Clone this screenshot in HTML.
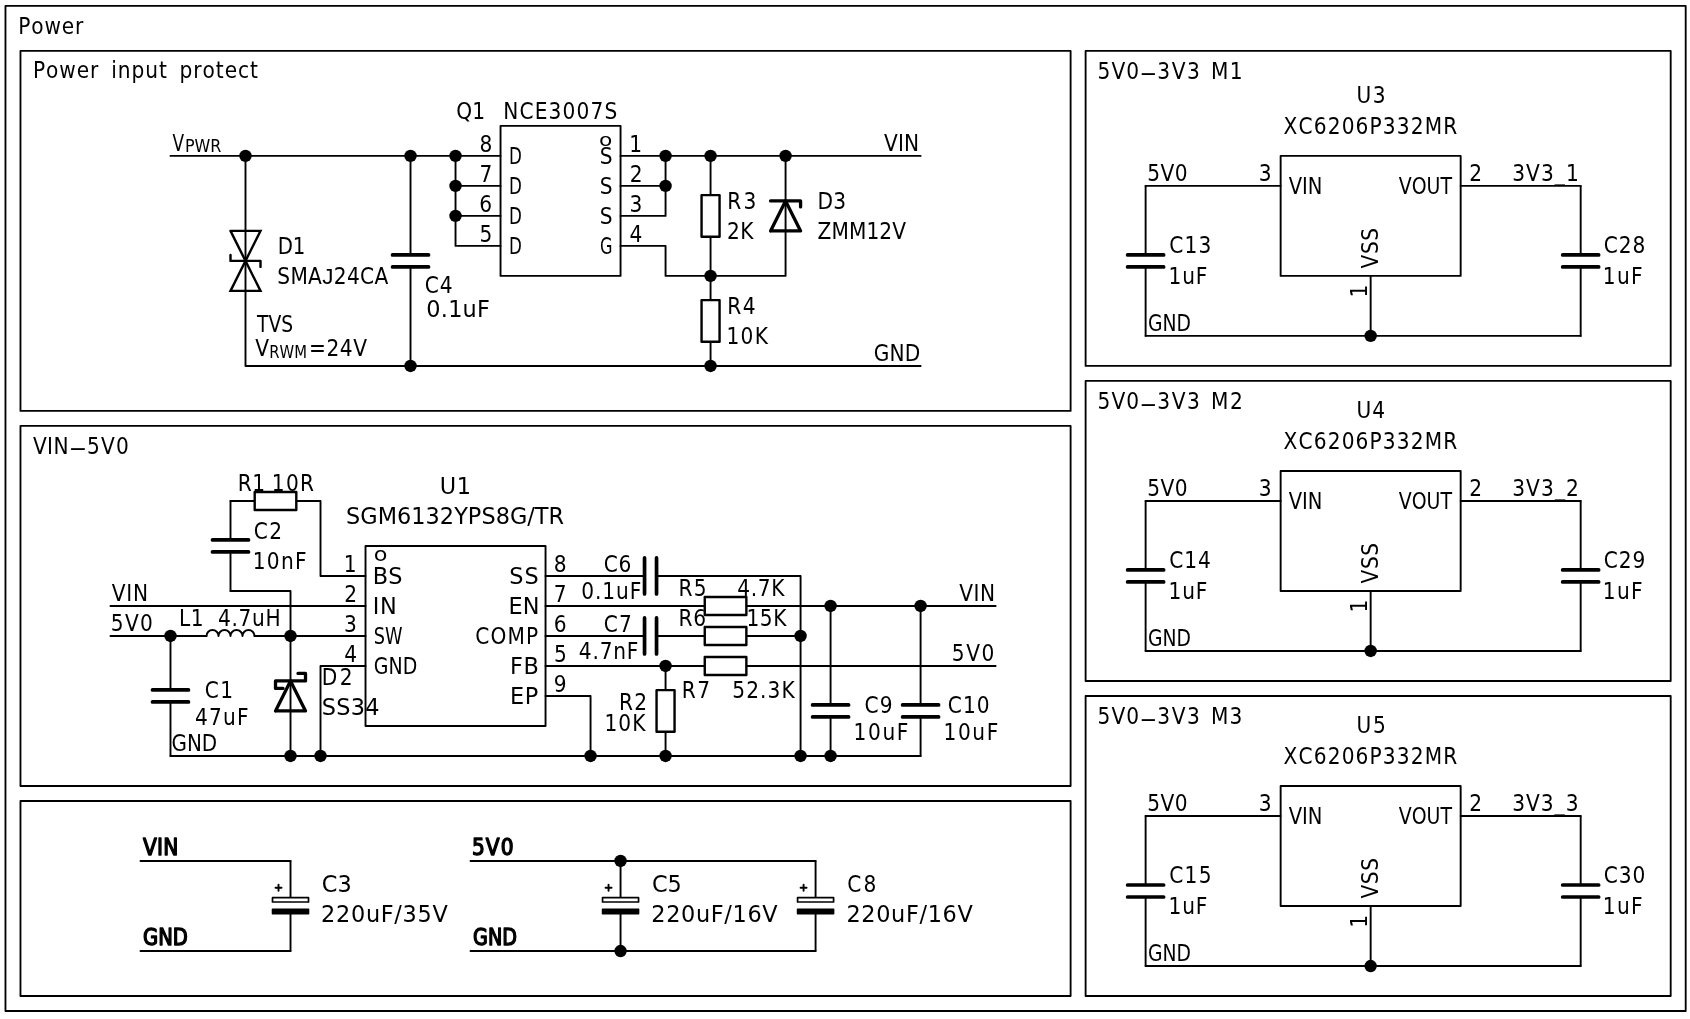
<!DOCTYPE html>
<html><head><meta charset="utf-8"><title>Power</title>
<style>
html,body{margin:0;padding:0;background:#fff;overflow:hidden}
svg{display:block;will-change:transform}
text{font-family:"DejaVu Sans Condensed","DejaVu Sans","Liberation Sans",sans-serif;font-size:22.4px;fill:#000;stroke:none;font-kerning:none;white-space:pre}
text.w{font-family:"DejaVu Sans","Liberation Sans",sans-serif}
text .l{font-family:"Liberation Sans",sans-serif}
text.b{stroke:#000;stroke-width:1.3px;stroke-linejoin:round}
</style></head><body>
<svg width="1690" height="1019" viewBox="0 0 1690 1019" fill="none" stroke="#000" stroke-linecap="round" stroke-linejoin="round">
<rect x="0" y="0" width="1690" height="1019" fill="#fff" stroke="none"/>
<rect x="5.47" y="5.88" width="1680.22" height="1005.13" stroke-width="1.85" fill="none"/>
<rect x="20.47" y="50.89" width="1050.14" height="360.05" stroke-width="1.85" fill="none"/>
<rect x="20.47" y="425.94" width="1050.14" height="360.05" stroke-width="1.85" fill="none"/>
<rect x="20.47" y="800.99" width="1050.14" height="195.03" stroke-width="1.85" fill="none"/>
<rect x="1085.61" y="50.89" width="585.08" height="315.04" stroke-width="1.85" fill="none"/>
<rect x="1085.61" y="380.93" width="585.08" height="300.04" stroke-width="1.85" fill="none"/>
<rect x="1085.61" y="695.97" width="585.08" height="300.04" stroke-width="1.85" fill="none"/>
<path d="M170.49 155.9 L500.53 155.9" stroke-width="1.9"/>
<path d="M245.5 155.9 L245.5 365.93 L920.59 365.93" stroke-width="1.9"/>
<path d="M410.52 155.9 L410.52 254.91" stroke-width="1.9"/>
<path d="M410.52 266.91 L410.52 365.93" stroke-width="1.9"/>
<path d="M392.52 254.91 L428.52 254.91" stroke-width="3.7"/>
<path d="M392.52 266.91 L428.52 266.91" stroke-width="3.7"/>
<path d="M455.53 155.9 L455.53 245.91 L500.53 245.91" stroke-width="1.9"/>
<path d="M455.53 185.9 L500.53 185.9" stroke-width="1.9"/>
<path d="M455.53 215.91 L500.53 215.91" stroke-width="1.9"/>
<rect x="500.53" y="125.9" width="120.02" height="150.02" stroke-width="1.9" fill="none"/>
<path d="M620.55 155.9 L920.59 155.9" stroke-width="1.9"/>
<path d="M620.55 185.9 L665.56 185.9" stroke-width="1.9"/>
<path d="M665.56 155.9 L665.56 215.91 L620.55 215.91" stroke-width="1.9"/>
<path d="M620.55 245.91 L665.56 245.91 L665.56 275.92 L785.57 275.92 L785.57 155.9" stroke-width="1.9"/>
<path d="M710.56 155.9 L710.56 365.93" stroke-width="1.9"/>
<rect x="701.56" y="195.11" width="18" height="41.6" stroke-width="2.4" fill="#fff"/>
<rect x="701.56" y="300.12" width="18" height="41.6" stroke-width="2.4" fill="#fff"/>
<circle cx="245.5" cy="155.9" r="6.2" fill="#000" stroke="none"/>
<circle cx="410.52" cy="155.9" r="6.2" fill="#000" stroke="none"/>
<circle cx="455.53" cy="155.9" r="6.2" fill="#000" stroke="none"/>
<circle cx="455.53" cy="185.9" r="6.2" fill="#000" stroke="none"/>
<circle cx="455.53" cy="215.91" r="6.2" fill="#000" stroke="none"/>
<circle cx="410.52" cy="365.93" r="6.2" fill="#000" stroke="none"/>
<circle cx="665.56" cy="155.9" r="6.2" fill="#000" stroke="none"/>
<circle cx="665.56" cy="185.9" r="6.2" fill="#000" stroke="none"/>
<circle cx="710.56" cy="155.9" r="6.2" fill="#000" stroke="none"/>
<circle cx="785.57" cy="155.9" r="6.2" fill="#000" stroke="none"/>
<circle cx="710.56" cy="275.92" r="6.2" fill="#000" stroke="none"/>
<circle cx="710.56" cy="365.93" r="6.2" fill="#000" stroke="none"/>
<path d="M230.5 230.91 L260.5 230.91 L230.5 290.91 L260.5 290.91 L230.5 230.91" stroke-width="2.4" stroke-linejoin="miter"/>
<path d="M230.5 254.91 L230.5 260.91 L260.5 260.91 L260.5 266.91" stroke-width="2.4"/>
<path d="M770.57 230.91 L800.57 230.91 L785.57 200.91 L770.57 230.91" stroke-width="3.3" fill="#fff"/>
<path d="M785.57 200.91 L785.57 230.91" stroke-width="1.9"/>
<path d="M770.57 200.91 L800.57 200.91 L800.57 206.91" stroke-width="3.3"/>
<path d="M230.5 500.95 L320.51 500.95 L320.51 575.96 L365.52 575.96" stroke-width="1.9"/>
<rect x="254.7" y="491.95" width="41.6" height="18" stroke-width="2.4" fill="#fff"/>
<path d="M230.5 500.95 L230.5 539.95" stroke-width="1.9"/>
<path d="M230.5 551.95 L230.5 590.96" stroke-width="1.9"/>
<path d="M212.5 539.95 L248.5 539.95" stroke-width="3.7"/>
<path d="M212.5 551.95 L248.5 551.95" stroke-width="3.7"/>
<path d="M230.5 590.96 L290.51 590.96 L290.51 755.98" stroke-width="1.9"/>
<path d="M110.48 605.96 L365.52 605.96" stroke-width="1.9"/>
<path d="M110.48 635.96 L206.49 635.96" stroke-width="1.9"/>
<path d="M254.5 635.96 L365.52 635.96" stroke-width="1.9"/>
<path d="M206.5 635.96 a6 6 0 0 1 12 0 a6 6 0 0 1 12 0 a6 6 0 0 1 12 0 a6 6 0 0 1 12 0" stroke-width="1.9"/>
<path d="M170.49 635.96 L170.49 689.97" stroke-width="1.9"/>
<path d="M170.49 701.97 L170.49 755.98" stroke-width="1.9"/>
<path d="M152.49 689.97 L188.49 689.97" stroke-width="3.7"/>
<path d="M152.49 701.97 L188.49 701.97" stroke-width="3.7"/>
<path d="M170.49 755.98 L920.59 755.98" stroke-width="1.9"/>
<path d="M365.52 665.97 L320.51 665.97 L320.51 755.98" stroke-width="1.9"/>
<rect x="365.52" y="545.95" width="180.02" height="180.02" stroke-width="1.9" fill="none"/>
<path d="M545.54 575.96 L644.55 575.96" stroke-width="1.9"/>
<path d="M656.55 575.96 L800.57 575.96 L800.57 755.98" stroke-width="1.9"/>
<path d="M644.55 557.96 L644.55 593.96" stroke-width="3.7"/>
<path d="M656.55 557.96 L656.55 593.96" stroke-width="3.7"/>
<path d="M545.54 605.96 L995.6 605.96" stroke-width="1.9"/>
<rect x="704.76" y="596.96" width="41.6" height="18" stroke-width="2.4" fill="#fff"/>
<path d="M545.54 635.96 L644.55 635.96" stroke-width="1.9"/>
<path d="M656.55 635.96 L800.57 635.96" stroke-width="1.9"/>
<path d="M644.55 617.96 L644.55 653.96" stroke-width="3.7"/>
<path d="M656.55 617.96 L656.55 653.96" stroke-width="3.7"/>
<rect x="704.76" y="626.96" width="41.6" height="18" stroke-width="2.4" fill="#fff"/>
<path d="M545.54 665.97 L995.6 665.97" stroke-width="1.9"/>
<rect x="704.76" y="656.97" width="41.6" height="18" stroke-width="2.4" fill="#fff"/>
<path d="M665.56 665.97 L665.56 755.98" stroke-width="1.9"/>
<rect x="656.56" y="690.17" width="18" height="41.6" stroke-width="2.4" fill="#fff"/>
<path d="M545.54 695.97 L590.55 695.97 L590.55 755.98" stroke-width="1.9"/>
<path d="M830.58 605.96 L830.58 704.97" stroke-width="1.9"/>
<path d="M830.58 716.97 L830.58 755.98" stroke-width="1.9"/>
<path d="M812.58 704.97 L848.58 704.97" stroke-width="3.7"/>
<path d="M812.58 716.97 L848.58 716.97" stroke-width="3.7"/>
<path d="M920.59 605.96 L920.59 704.97" stroke-width="1.9"/>
<path d="M920.59 716.97 L920.59 755.98" stroke-width="1.9"/>
<path d="M902.59 704.97 L938.59 704.97" stroke-width="3.7"/>
<path d="M902.59 716.97 L938.59 716.97" stroke-width="3.7"/>
<circle cx="170.49" cy="635.96" r="6.2" fill="#000" stroke="none"/>
<circle cx="290.51" cy="635.96" r="6.2" fill="#000" stroke="none"/>
<circle cx="290.51" cy="755.98" r="6.2" fill="#000" stroke="none"/>
<circle cx="320.51" cy="755.98" r="6.2" fill="#000" stroke="none"/>
<circle cx="590.55" cy="755.98" r="6.2" fill="#000" stroke="none"/>
<circle cx="665.56" cy="755.98" r="6.2" fill="#000" stroke="none"/>
<circle cx="800.57" cy="755.98" r="6.2" fill="#000" stroke="none"/>
<circle cx="830.58" cy="755.98" r="6.2" fill="#000" stroke="none"/>
<circle cx="665.56" cy="665.97" r="6.2" fill="#000" stroke="none"/>
<circle cx="800.57" cy="635.96" r="6.2" fill="#000" stroke="none"/>
<circle cx="830.58" cy="605.96" r="6.2" fill="#000" stroke="none"/>
<circle cx="920.59" cy="605.96" r="6.2" fill="#000" stroke="none"/>
<path d="M275.51 710.97 L305.51 710.97 L290.51 680.97 L275.51 710.97" stroke-width="3.3" fill="#fff"/>
<path d="M290.51 680.97 L290.51 710.97" stroke-width="1.9"/>
<path d="M283.01 688.47 L275.51 688.47 L275.51 680.97 L305.51 680.97 L305.51 673.47 L298.01 673.47" stroke-width="3.3"/>
<path d="M140.49 860.99 L290.51 860.99" stroke-width="1.9"/>
<path d="M140.49 951.01 L290.51 951.01" stroke-width="1.9"/>
<path d="M290.51 860.99 L290.51 897.6" stroke-width="1.9"/>
<path d="M290.51 913.8 L290.51 951.01" stroke-width="1.9"/>
<rect x="272.51" y="897.7" width="36" height="4.3" stroke-width="1.7" fill="#fff"/>
<rect x="272.51" y="909.3" width="36" height="4.5" stroke-width="1.6" fill="#000"/>
<path d="M275.51 887.7 L281.51 887.7" stroke-width="1.9"/>
<path d="M278.51 884.7 L278.51 890.7" stroke-width="1.9"/>
<path d="M470.53 860.99 L815.58 860.99" stroke-width="1.9"/>
<path d="M470.53 951.01 L815.58 951.01" stroke-width="1.9"/>
<path d="M620.55 860.99 L620.55 897.6" stroke-width="1.9"/>
<path d="M620.55 913.8 L620.55 951.01" stroke-width="1.9"/>
<rect x="602.55" y="897.7" width="36" height="4.3" stroke-width="1.7" fill="#fff"/>
<rect x="602.55" y="909.3" width="36" height="4.5" stroke-width="1.6" fill="#000"/>
<path d="M605.55 887.7 L611.55 887.7" stroke-width="1.9"/>
<path d="M608.55 884.7 L608.55 890.7" stroke-width="1.9"/>
<path d="M815.58 860.99 L815.58 897.6" stroke-width="1.9"/>
<path d="M815.58 913.8 L815.58 951.01" stroke-width="1.9"/>
<rect x="797.58" y="897.7" width="36" height="4.3" stroke-width="1.7" fill="#fff"/>
<rect x="797.58" y="909.3" width="36" height="4.5" stroke-width="1.6" fill="#000"/>
<path d="M800.58 887.7 L806.58 887.7" stroke-width="1.9"/>
<path d="M803.58 884.7 L803.58 890.7" stroke-width="1.9"/>
<circle cx="620.55" cy="860.99" r="6.2" fill="#000" stroke="none"/>
<circle cx="620.55" cy="951.01" r="6.2" fill="#000" stroke="none"/>
<rect x="1280.64" y="155.9" width="180.02" height="120.02" stroke-width="1.9" fill="none"/>
<path d="M1280.64 185.9 L1145.62 185.9" stroke-width="1.9"/>
<path d="M1145.62 185.9 L1145.62 254.91" stroke-width="1.9"/>
<path d="M1145.62 266.91 L1145.62 335.92" stroke-width="1.9"/>
<path d="M1127.62 254.91 L1163.62 254.91" stroke-width="3.7"/>
<path d="M1127.62 266.91 L1163.62 266.91" stroke-width="3.7"/>
<path d="M1145.62 335.92 L1580.68 335.92" stroke-width="1.9"/>
<path d="M1370.65 275.92 L1370.65 335.92" stroke-width="1.9"/>
<circle cx="1370.65" cy="335.92" r="6.2" fill="#000" stroke="none"/>
<path d="M1460.66 185.9 L1580.68 185.9" stroke-width="1.9"/>
<path d="M1580.68 185.9 L1580.68 254.91" stroke-width="1.9"/>
<path d="M1580.68 266.91 L1580.68 335.92" stroke-width="1.9"/>
<path d="M1562.68 254.91 L1598.68 254.91" stroke-width="3.7"/>
<path d="M1562.68 266.91 L1598.68 266.91" stroke-width="3.7"/>
<rect x="1280.64" y="470.94" width="180.02" height="120.02" stroke-width="1.9" fill="none"/>
<path d="M1280.64 500.95 L1145.62 500.95" stroke-width="1.9"/>
<path d="M1145.62 500.95 L1145.62 569.96" stroke-width="1.9"/>
<path d="M1145.62 581.96 L1145.62 650.97" stroke-width="1.9"/>
<path d="M1127.62 569.96 L1163.62 569.96" stroke-width="3.7"/>
<path d="M1127.62 581.96 L1163.62 581.96" stroke-width="3.7"/>
<path d="M1145.62 650.97 L1580.68 650.97" stroke-width="1.9"/>
<path d="M1370.65 590.96 L1370.65 650.97" stroke-width="1.9"/>
<circle cx="1370.65" cy="650.97" r="6.2" fill="#000" stroke="none"/>
<path d="M1460.66 500.95 L1580.68 500.95" stroke-width="1.9"/>
<path d="M1580.68 500.95 L1580.68 569.96" stroke-width="1.9"/>
<path d="M1580.68 581.96 L1580.68 650.97" stroke-width="1.9"/>
<path d="M1562.68 569.96 L1598.68 569.96" stroke-width="3.7"/>
<path d="M1562.68 581.96 L1598.68 581.96" stroke-width="3.7"/>
<rect x="1280.64" y="785.98" width="180.02" height="120.02" stroke-width="1.9" fill="none"/>
<path d="M1280.64 815.99 L1145.62 815.99" stroke-width="1.9"/>
<path d="M1145.62 815.99 L1145.62 885" stroke-width="1.9"/>
<path d="M1145.62 897 L1145.62 966.01" stroke-width="1.9"/>
<path d="M1127.62 885 L1163.62 885" stroke-width="3.7"/>
<path d="M1127.62 897 L1163.62 897" stroke-width="3.7"/>
<path d="M1145.62 966.01 L1580.68 966.01" stroke-width="1.9"/>
<path d="M1370.65 906 L1370.65 966.01" stroke-width="1.9"/>
<circle cx="1370.65" cy="966.01" r="6.2" fill="#000" stroke="none"/>
<path d="M1460.66 815.99 L1580.68 815.99" stroke-width="1.9"/>
<path d="M1580.68 815.99 L1580.68 885" stroke-width="1.9"/>
<path d="M1580.68 897 L1580.68 966.01" stroke-width="1.9"/>
<path d="M1562.68 885 L1598.68 885" stroke-width="3.7"/>
<path d="M1562.68 897 L1598.68 897" stroke-width="3.7"/>
<text x="18.13 31.19 44.42 61.8 75.11" y="33.9">Power</text>
<text x="33.03 46.11 59.37 76.78 90.11" y="78.4">Power</text>
<text x="111.21 117.79 131.54 145.32 159.07" y="78.4">input</text>
<text x="179.47 193.24 202.49 215.79 224.65 238.02 250.07" y="78.4">protect</text>
<text x="32.95 47.09 53.4" y="453.9">VIN</text>
<text transform="translate(71 455.2) scale(2.6 1)" x="-0.98" y="0">-</text>
<text x="86.95 101.04 116.1" y="453.9">5V0</text>
<text x="1097.55 1111.44 1126.3" y="79">5V0</text>
<text transform="translate(1141.8 80.3) scale(2.5 1)" x="-0.98" y="0">-</text>
<text x="1157.37 1171.69 1186.98" y="79">3V3</text>
<text x="1211.03 1229.73" y="79">M1</text>
<text x="1097.55 1111.44 1126.3" y="409.2">5V0</text>
<text transform="translate(1141.8 410.5) scale(2.5 1)" x="-0.98" y="0">-</text>
<text x="1157.37 1171.69 1186.98" y="409.2">3V3</text>
<text x="1211.03 1229.88" y="409.2">M2</text>
<text x="1097.55 1111.44 1126.3" y="724.2">5V0</text>
<text transform="translate(1141.8 725.5) scale(2.5 1)" x="-0.98" y="0">-</text>
<text x="1157.37 1171.69 1186.98" y="724.2">3V3</text>
<text x="1211.03 1229.48" y="724.2">M3</text>
<text transform="translate(172.5 151.1) scale(0.84 1)" x="-0.15" y="0">V</text>
<text transform="translate(186.5 152.4) scale(0.99 1)" x="-1.57 8.15 24.09" y="0" style="font-size:17.92px">PWR</text>
<text x="456.17 472.23" y="119">Q1</text>
<text x="503.13 519.38 534.63 548.54 562.53 576.53 590.52 604.52" y="119">NCE3007S</text>
<text x="479.44" y="152">8</text>
<text x="479.47" y="182">7</text>
<text x="479.37" y="212.01">6</text>
<text x="479.54" y="242.01">5</text>
<text transform="translate(510.5 163.9) scale(0.83 1)" x="-1.97" y="0">D</text>
<text transform="translate(510.5 193.9) scale(0.83 1)" x="-1.97" y="0">D</text>
<text transform="translate(510.5 223.91) scale(0.83 1)" x="-1.97" y="0">D</text>
<text transform="translate(510.5 253.91) scale(0.83 1)" x="-1.97" y="0">D</text>
<text x="599.65" y="163.9">S</text>
<text x="599.65" y="193.9">S</text>
<text x="599.65" y="223.91">S</text>
<text transform="translate(601 253.91) scale(0.8 1)" x="-1.13" y="0">G</text>
<text transform="translate(600.1 145.7) scale(1.19 1)" x="-1.01" y="0" style="font-size:18.3px" class="w">o</text>
<text x="629.21" y="152">1</text>
<text x="629.65" y="182">2</text>
<text x="629.42" y="212.01">3</text>
<text x="629.46" y="242.01">4</text>
<text x="884.05 897.89 903.9" y="151">VIN</text>
<text x="727.23 743.38" y="209">R3</text>
<text x="726.92 740.25" y="239">2K</text>
<text x="817.43 833.28" y="209">D3</text>
<text x="817.6 831.48 848.94 866.4 879.28 892.17" y="239">ZMM12V</text>
<text x="727.33 742.8" y="314">R4</text>
<text x="726.49 740.62 754.75" y="344">10K</text>
<text x="873.67 889.49 904.76" y="361.03">GND</text>
<text transform="translate(279.6 254) scale(0.98 1)" x="-1.97 13.55" y="0">D1</text>
<text x="277.28 290.4 308.12 322.24 333.77 346.92 360.06 374.47" y="284">SMA<tspan class="l">J</tspan>24CA</text>
<text x="424.77 439.8" y="293">C4</text>
<text x="426.32 440.79 448.13 462.6 477.02" y="317" class="w">0.1uF</text>
<text transform="translate(256.9 332) scale(0.93 1)" x="0.07 12.37 26.15" y="0">TVS</text>
<text x="255.36" y="356">V</text>
<text transform="translate(270.7 358) scale(0.92 1)" x="-1.57 9.62 25.57" y="0" style="font-size:17.92px">RWM</text>
<text x="308.97 326.45 339.86 353.27" y="356">=24V</text>
<text x="237.63 252.23" y="491">R1</text>
<text x="271.79 285.88 299.97" y="491">10R</text>
<text x="253.77 269.18" y="539">C2</text>
<text x="252.69 266.83 280.97 295.07" y="569">10nF</text>
<text x="111.85 126.29 132.9" y="601.1">VIN</text>
<text x="110.85 124.99 140.1" y="631.2">5V0</text>
<text x="178.93 190.63" y="626">L1</text>
<text x="217.92 231.46 238.57 252.11 265.61" y="626">4.7uH</text>
<text x="439.75 456.82" y="494" class="w">U1</text>
<text x="346.02 360.27 377.66 397.01 411.29 425.57 439.85 454.13 467.84 481.38 495.63 509.91 527.29 534.87 548.58" y="524.4" class="w">SGM6132YPS8G/TR</text>
<text x="343.81" y="572.06">1</text>
<text x="344.35" y="602.06">2</text>
<text x="344.12" y="632.06">3</text>
<text x="344.16" y="662.07">4</text>
<text x="372.7 388.23" y="583.96" class="w">BS</text>
<text x="372.7 379.94" y="613.96" class="w">IN</text>
<text transform="translate(374.9 643.96) scale(0.88 1)" x="-1.32 11.47" y="0">SW</text>
<text transform="translate(374.9 673.97) scale(0.94 1)" x="-1.13 14.49 29.56" y="0">GND</text>
<text x="509.32 524.43" y="583.96" class="w">SS</text>
<text x="508.6 522.84" y="613.96" class="w">EN</text>
<text x="475.37 490.53 507.46 525.93" y="643.96">COMP</text>
<text x="509.9 523.62" y="673.97" class="w">FB</text>
<text x="509.9 524.66" y="703.97" class="w">EP</text>
<text x="553.79" y="572.06">8</text>
<text x="553.82" y="602.06">7</text>
<text x="553.72" y="632.06">6</text>
<text x="553.89" y="662.07">5</text>
<text x="553.86" y="692.07">9</text>
<text transform="translate(375 560.7) scale(1.14 1)" x="-1.08" y="0" style="font-size:19.6px" class="w">o</text>
<text x="603.67 618.54" y="572">C6</text>
<text x="581.18 594.96 602.33 616.12 629.87" y="599">0.1uF</text>
<text x="603.67 618.99" y="632">C7</text>
<text x="578.82 592.44 599.65 613.28 626.87" y="659">4.7nF</text>
<text x="678.53 693.83" y="596">R5</text>
<text x="737.22 750.7 757.77 771.25" y="596">4.7K</text>
<text x="678.53 693.34" y="626">R6</text>
<text x="746.59 759.87 773.15" y="626">15K</text>
<text x="681.83 697.29" y="698">R7</text>
<text x="732.35 746.23 760.11 767.57 781.45" y="698">52.3K</text>
<text x="618.93 634.28" y="710">R2</text>
<text x="604.39 618.27 632.15" y="731">10K</text>
<text x="959.25 973.49 979.9" y="601.1">VIN</text>
<text x="951.75 966.14 981.5" y="661.2">5V0</text>
<text x="864.57 879.78" y="713">C9</text>
<text x="853.49 867.96 882.44 896.87" y="740">10uF</text>
<text x="947.87 962.92 976.7" y="713">C10</text>
<text x="943.49 957.93 972.37 986.77" y="740">10uF</text>
<text x="321.73 339.78" y="684.9">D2</text>
<text x="321.72 336.24 350.76 365.31" y="715.2" class="w">SS34</text>
<text x="204.77 220.13" y="698">C1</text>
<text x="194.92 208.98 223.04 237.07" y="725">47uF</text>
<text transform="translate(172.6 751.2) scale(0.99 1)" x="-1.13 14.49 29.56" y="0">GND</text>
<text x="143 157.09 163.35" y="854.65" class="b">VIN</text>
<text transform="translate(144.15 945.25) scale(0.97 1)" x="-1.13 14.49 29.56" y="0" class="b">GND</text>
<text x="471.9 485.79 500.65" y="854.65" class="b">5V0</text>
<text transform="translate(474.15 945.25) scale(0.95 1)" x="-1.13 14.49 29.56" y="0" class="b">GND</text>
<text x="321.74 337.54" y="892.3" class="w">C3</text>
<text x="321.06 336 350.94 365.88 380.77 394.34 402.58 417.52 432.46" y="922.2" class="w">220uF/35V</text>
<text x="651.94 667.61" y="892.3" class="w">C5</text>
<text x="651.26 666.16 681.07 695.97 710.82 724.36 732.56 747.46 762.36" y="922.2" class="w">220uF/16V</text>
<text x="847.22 863.6" y="892.3">C8</text>
<text x="846.41 861.31 876.22 891.12 905.97 919.51 927.71 942.61 957.51" y="922.2" class="w">220uF/16V</text>
<text x="1356.45 1372.78" y="103.4">U3</text>
<text x="1283.61 1298.54 1313.74 1327.69 1341.64 1355.58 1369.53 1382.81 1396.76 1410.7 1424.65 1443.17" y="133.5">XC6206P332MR</text>
<text x="1147.15 1160.44 1174.7" y="180.6">5V0</text>
<text x="1258.82" y="180.6">3</text>
<text transform="translate(1288.9 193.8) scale(0.97 1)" x="-0.15 13.63 19.57" y="0">VIN</text>
<text transform="translate(1398.9 193.8) scale(0.94 1)" x="-0.15 13.63 29.49 44.24" y="0">VOUT</text>
<text x="1469.2" y="180.6">2</text>
<text x="1512.17 1526.05 1540.9 1554.79 1565.93" y="180.6">3V3_1</text>
<text x="1169.17 1184.5 1198.58" y="253.4">C13</text>
<text x="1168.49 1182.15 1195.77" y="283.8">1uF</text>
<text x="1603.87 1618.84 1632.55" y="253.4">C28</text>
<text x="1602.79 1616.95 1631.07" y="283.8">1uF</text>
<text transform="translate(1149.1 330.6) scale(0.93 1)" x="-1.13 14.49 29.56" y="0">GND</text>
<text transform="translate(1378.4 268.3) rotate(-90)" x="-0.15 14.23 27.62" y="0">VSS</text>
<text transform="translate(1366.5 295.38) rotate(-90)" x="-2.21" y="0">1</text>
<text x="1356.45 1372.3" y="418.44">U4</text>
<text x="1283.61 1298.54 1313.74 1327.69 1341.64 1355.58 1369.53 1382.81 1396.76 1410.7 1424.65 1443.17" y="448.54">XC6206P332MR</text>
<text x="1147.15 1160.44 1174.7" y="495.64">5V0</text>
<text x="1258.82" y="495.64">3</text>
<text transform="translate(1288.9 508.84) scale(0.97 1)" x="-0.15 13.63 19.57" y="0">VIN</text>
<text transform="translate(1398.9 508.84) scale(0.94 1)" x="-0.15 13.63 29.49 44.24" y="0">VOUT</text>
<text x="1469.2" y="495.64">2</text>
<text x="1512.17 1526.09 1540.98 1554.9 1566.08" y="495.64">3V3_2</text>
<text x="1169.17 1184.26 1198.1" y="568.44">C14</text>
<text x="1168.49 1182.15 1195.77" y="598.84">1uF</text>
<text x="1603.87 1618.86 1632.58" y="568.44">C29</text>
<text x="1602.79 1616.95 1631.07" y="598.84">1uF</text>
<text transform="translate(1149.1 645.64) scale(0.93 1)" x="-1.13 14.49 29.56" y="0">GND</text>
<text transform="translate(1378.4 583.34) rotate(-90)" x="-0.15 14.23 27.62" y="0">VSS</text>
<text transform="translate(1366.5 610.42) rotate(-90)" x="-2.21" y="0">1</text>
<text x="1356.45 1372.93" y="733.48">U5</text>
<text x="1283.61 1298.54 1313.74 1327.69 1341.64 1355.58 1369.53 1382.81 1396.76 1410.7 1424.65 1443.17" y="763.58">XC6206P332MR</text>
<text x="1147.15 1160.44 1174.7" y="810.68">5V0</text>
<text x="1258.82" y="810.68">3</text>
<text transform="translate(1288.9 823.88) scale(0.97 1)" x="-0.15 13.63 19.57" y="0">VIN</text>
<text transform="translate(1398.9 823.88) scale(0.94 1)" x="-0.15 13.63 29.49 44.24" y="0">VOUT</text>
<text x="1469.2" y="810.68">2</text>
<text x="1512.17 1525.99 1540.78 1554.6 1565.68" y="810.68">3V3_3</text>
<text x="1169.17 1184.58 1198.73" y="883.48">C15</text>
<text x="1168.49 1182.15 1195.77" y="913.88">1uF</text>
<text x="1603.87 1618.82 1632.5" y="883.48">C30</text>
<text x="1602.79 1616.95 1631.07" y="913.88">1uF</text>
<text transform="translate(1149.1 960.68) scale(0.93 1)" x="-1.13 14.49 29.56" y="0">GND</text>
<text transform="translate(1378.4 898.38) rotate(-90)" x="-0.15 14.22 27.62" y="0">VSS</text>
<text transform="translate(1366.5 925.46) rotate(-90)" x="-2.21" y="0">1</text>
</svg>
</body></html>
